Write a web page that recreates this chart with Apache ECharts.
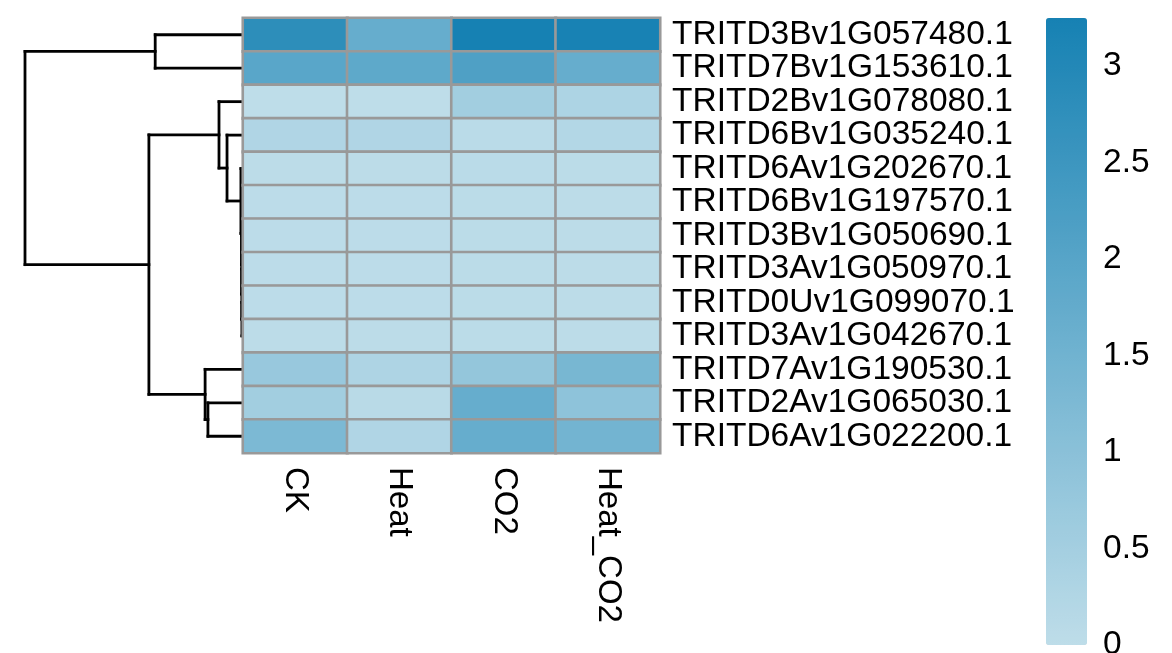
<!DOCTYPE html>
<html>
<head>
<meta charset="utf-8">
<script src="https://cdn.jsdelivr.net/npm/echarts@6/dist/echarts.min.js"></script>
<style>html,body{margin:0;padding:0;background:#fff;}#c{width:1172px;height:653px;}</style>
</head>
<body>
<div id="c"></div>
<script>
// ---- data ----
var conditions = ['CK', 'Heat', 'CO2', 'Heat_CO2'];
var genes = [
  'TRITD3Bv1G057480.1','TRITD7Bv1G153610.1','TRITD2Bv1G078080.1','TRITD6Bv1G035240.1',
  'TRITD6Av1G202670.1','TRITD6Bv1G197570.1','TRITD3Bv1G050690.1','TRITD3Av1G050970.1',
  'TRITD0Uv1G099070.1','TRITD3Av1G042670.1','TRITD7Av1G190530.1','TRITD2Av1G065030.1',
  'TRITD6Av1G022200.1'
];
// expression per condition, one value per gene (same order as genes)
var valCK      = [2.80, 1.95, 0.00, 0.27, 0.04, 0.03, 0.03, 0.03, 0.03, 0.04, 0.74, 0.54, 1.28];
var valHeat    = [1.71, 1.85, 0.00, 0.27, 0.04, 0.03, 0.03, 0.03, 0.03, 0.04, 0.31, 0.10, 0.27];
var valCO2     = [3.25, 2.14, 0.54, 0.08, 0.08, 0.05, 0.05, 0.05, 0.05, 0.05, 0.82, 1.71, 1.71];
var valHeatCO2 = [3.21, 1.71, 0.33, 0.21, 0.05, 0.04, 0.04, 0.04, 0.04, 0.04, 1.36, 0.93, 1.46];
var colorbarTicks = [0, 0.5, 1, 1.5, 2, 2.5, 3];
var colorMax = 3.25;
// row dendrogram: [left, right, height]; leaves are row indices
var rowTree = [
  [0, 1, 0.40],
  [
    [2, [3, [4, [5, [6, [7, [8, 9, 0.0005], 0.001], 0.0015], 0.002], 0.005], 0.069], 0.106],
    [10, [11, 12, 0.157], 0.17],
    0.429
  ],
  1.0
];

// ---- build ----
var cols = [valCK, valHeat, valCO2, valHeatCO2];
var heatData = [];
cols.forEach(function (arr, ci) {
  arr.forEach(function (v, ri) { heatData.push([ci, ri, v]); });
});

var segs = [];
function walk(node) {
  if (typeof node === 'number') return { pos: node, h: 0 };
  var a = walk(node[0]), b = walk(node[1]), h = node[2];
  segs.push([h, a.pos, h, b.pos]);
  segs.push([h, a.pos, a.h, a.pos]);
  segs.push([h, b.pos, b.h, b.pos]);
  return { pos: (a.pos + b.pos) / 2, h: h };
}
walk(rowTree);

var FONT = 'Liberation Sans';
var FS = 33.5;
var chart = echarts.init(document.getElementById('c'), null, { renderer: 'canvas' });
chart.setOption({
  backgroundColor: '#ffffff',
  animation: false,
  grid: [
    { left: 25, top: 18, width: 217, height: 435, outerBoundsMode: 'none', containLabel: false },
    { left: 243, top: 18, width: 417, height: 435, outerBoundsMode: 'none', containLabel: false },
    { left: 1046, top: 18, width: 41, height: 627, outerBoundsMode: 'none', containLabel: false }
  ],
  xAxis: [
    { gridIndex: 0, type: 'value', min: 0, max: 1, inverse: true, show: false },
    { gridIndex: 1, type: 'category', data: conditions, position: 'bottom',
      axisLine: { show: false }, axisTick: { show: false }, splitLine: { show: false },
      axisLabel: { rotate: -90, margin: 14, fontSize: 33, fontFamily: FONT, color: '#000', interval: 0 } },
    { gridIndex: 2, type: 'value', min: 0, max: 1, show: false }
  ],
  yAxis: [
    { gridIndex: 0, type: 'value', min: -0.5, max: 12.5, inverse: true, show: false },
    { gridIndex: 1, type: 'category', data: genes, inverse: true, position: 'right',
      axisLine: { show: false }, axisTick: { show: false }, splitLine: { show: false },
      axisLabel: { margin: 12, fontSize: FS, fontFamily: FONT, color: '#000', interval: 0 } },
    { gridIndex: 2, type: 'value', min: 0, max: colorMax, interval: 0.5, position: 'right',
      axisLine: { show: false }, axisTick: { show: false }, splitLine: { show: false },
      axisLabel: { margin: 16, fontSize: FS, fontFamily: FONT, color: '#000', showMaxLabel: false,
        formatter: function (v) { return colorbarTicks.indexOf(v) >= 0 ? String(v) : ''; } } }
  ],
  visualMap: {
    type: 'continuous', min: 0, max: colorMax, calculable: false, seriesIndex: 1,
    orient: 'vertical', left: 1046, top: 18, itemWidth: 41, itemHeight: 627, padding: 0,
    text: null, showLabel: false, hoverLink: false,
    inRange: { color: ['#bedde9', '#1681b3'] }
  },
  series: [
    {
      type: 'custom', xAxisIndex: 0, yAxisIndex: 0, data: segs,
      encode: { x: [0, 2], y: [1, 3] }, silent: true,
      renderItem: function (params, api) {
        var p1 = api.coord([api.value(0), api.value(1)]);
        var p2 = api.coord([api.value(2), api.value(3)]);
        return { type: 'line', shape: { x1: p1[0], y1: p1[1], x2: p2[0], y2: p2[1] },
          style: { stroke: '#000', lineWidth: 2.8, lineCap: 'square' } };
      }
    },
    {
      type: 'heatmap', xAxisIndex: 1, yAxisIndex: 1, data: heatData, z: 5,
      itemStyle: { borderColor: '#999999', borderWidth: 2.6 }
    },
    { type: 'scatter', xAxisIndex: 2, yAxisIndex: 2, data: [] }
  ]
});
</script>
</body>
</html>
